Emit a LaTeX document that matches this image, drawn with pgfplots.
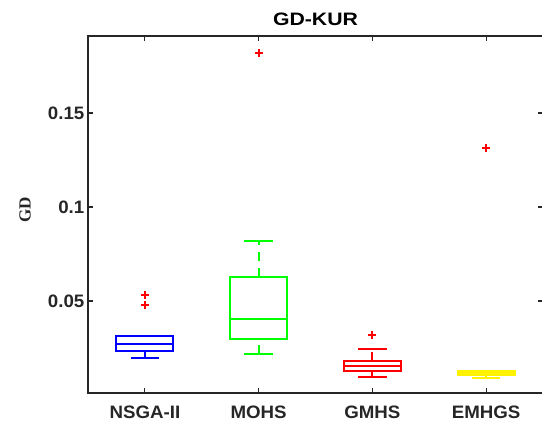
\documentclass[border=0pt]{standalone}
\usepackage{pgfplots}
\pgfplotsset{compat=1.18}
\usepgfplotslibrary{statistics}
\usepackage{fontspec}
\setmainfont{Liberation Sans}
\newfontfamily\labelserif{Liberation Serif}
\definecolor{axisgray}{RGB}{38,38,38}

% whiskers: dashed stem, solid cap of half the box width
\pgfplotsset{
  boxplot/draw/lower whisker/.code={%
    \draw[/pgfplots/boxplot/every whisker/.try, dash pattern=on 9pt off 7pt]
      (boxplot box cs:\pgfplotsboxplotvalue{lower whisker},0.5) --
      (boxplot box cs:\pgfplotsboxplotvalue{lower quartile},0.5);
    \draw[/pgfplots/boxplot/every whisker/.try]
      (boxplot box cs:\pgfplotsboxplotvalue{lower whisker},0.25) --
      (boxplot box cs:\pgfplotsboxplotvalue{lower whisker},0.75);
  },
  boxplot/draw/upper whisker/.code={%
    \draw[/pgfplots/boxplot/every whisker/.try, dash pattern=on 9pt off 7pt]
      (boxplot box cs:\pgfplotsboxplotvalue{upper quartile},0.5) --
      (boxplot box cs:\pgfplotsboxplotvalue{upper whisker},0.5);
    \draw[/pgfplots/boxplot/every whisker/.try]
      (boxplot box cs:\pgfplotsboxplotvalue{upper whisker},0.25) --
      (boxplot box cs:\pgfplotsboxplotvalue{upper whisker},0.75);
  },
  boxplot/every box/.style={line width=1.9pt},
  boxplot/every median/.style={line width=1.9pt},
  boxplot/every whisker/.style={line width=1.9pt},
  outlier/.style={mark=+, mark size=4pt, mark options={red, solid, line width=2.2pt}},
}

\begin{document}
\begin{tikzpicture}
\useasboundingbox (-88pt,-36pt) rectangle (454pt,393pt);
\begin{axis}[
  at={(0pt,0pt)}, anchor=south west,
  scale only axis, width=455pt, height=357pt,
  xmin=0.5, xmax=4.5, ymin=0.0011, ymax=0.191,
  xtick={1,2,3,4}, xticklabels={NSGA-II,MOHS,GMHS,EMHGS},
  ytick={0.05,0.1,0.15}, yticklabels={0.05,0.1,0.15},
  tick align=inside, major tick length=5pt,
  axis line style={axisgray, line width=1.2pt},
  tick style={axisgray, line width=1.2pt},
  ticklabel style={font=\fontsize{18}{21}\selectfont\bfseries, text=axisgray, xscale=1.04},
  xticklabel style={anchor=base, yshift=-25pt},
  title={GD-KUR},
  title style={font=\fontsize{18}{21}\selectfont\bfseries, at={(0.5,1)}, anchor=base,
    yshift=5pt, xscale=1.18},
  ylabel={GD},
  ylabel style={font=\labelserif\fontsize{17}{19}\selectfont\bfseries, text=axisgray,
    at={(axis description cs:-0.1385,0.513)}, anchor=center},
  boxplot/draw direction=y,
  boxplot/box extend=0.5,
]
% NSGA-II
\addplot[draw=blue, line width=1.9pt, outlier,
  boxplot prepared={draw position=1, lower whisker=0.0197, lower quartile=0.0234,
    median=0.0271, upper quartile=0.0314, upper whisker=0.0314}]
  table[row sep=\\, y index=0] {gd\\ 0.0532\\ 0.0479\\};
% MOHS
\addplot[draw=green, line width=1.9pt, outlier,
  boxplot prepared={draw position=2, lower whisker=0.0220, lower quartile=0.0298,
    median=0.0404, upper quartile=0.0626, upper whisker=0.0821}]
  table[row sep=\\, y index=0] {gd\\ 0.1818\\};
% GMHS
\addplot[draw=red, line width=1.9pt, outlier,
  boxplot prepared={draw position=3, lower whisker=0.0097, lower quartile=0.0126,
    median=0.0153, upper quartile=0.0179, upper whisker=0.0246}]
  table[row sep=\\, y index=0] {gd\\ 0.0319\\};
% EMHGS
\addplot[draw=yellow, line width=1.9pt, outlier,
  boxplot prepared={draw position=4, lower whisker=0.0090, lower quartile=0.0105,
    median=0.0117, upper quartile=0.0128, upper whisker=0.0128}]
  table[row sep=\\, y index=0] {gd\\ 0.1314\\};
\end{axis}
\end{tikzpicture}
\end{document}
